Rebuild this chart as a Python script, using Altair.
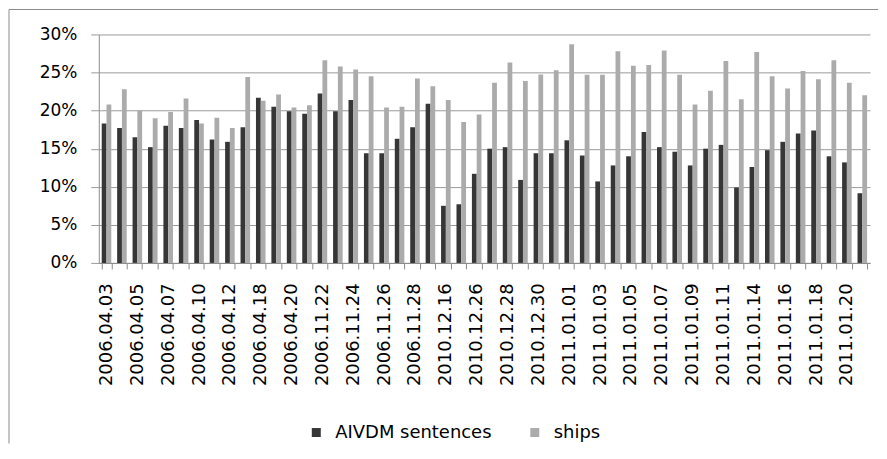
import altair as alt
import pandas as pd

dates = [
    "2006.04.03", "2006.04.04", "2006.04.05", "2006.04.06", "2006.04.07",
    "2006.04.08", "2006.04.10", "2006.04.11", "2006.04.12", "2006.04.17",
    "2006.04.18", "2006.04.19", "2006.04.20", "2006.04.21", "2006.11.22",
    "2006.11.23", "2006.11.24", "2006.11.25", "2006.11.26", "2006.11.27",
    "2006.11.28", "2006.11.29", "2010.12.16", "2010.12.25", "2010.12.26",
    "2010.12.27", "2010.12.28", "2010.12.29", "2010.12.30", "2010.12.31",
    "2011.01.01", "2011.01.02", "2011.01.03", "2011.01.04", "2011.01.05",
    "2011.01.06", "2011.01.07", "2011.01.08", "2011.01.09", "2011.01.10",
    "2011.01.11", "2011.01.13", "2011.01.14", "2011.01.15", "2011.01.16",
    "2011.01.17", "2011.01.18", "2011.01.19", "2011.01.20", "2011.01.21",
]

aivdm = [
    18.3, 17.7, 16.5, 15.2, 18.0, 17.7, 18.75, 16.2, 15.9, 17.8,
    21.7, 20.5, 19.9, 19.6, 22.25, 19.9, 21.4, 14.4, 14.4, 16.3,
    17.8, 20.9, 7.5, 7.7, 11.7, 15.0, 15.2, 10.9, 14.4, 14.4,
    16.1, 14.1, 10.7, 12.8, 14.0, 17.2, 15.2, 14.6, 12.8, 15.0,
    15.5, 9.9, 12.6, 14.8, 15.9, 17.0, 17.4, 14.0, 13.2, 9.15,
]

ships = [
    20.8, 22.8, 20.0, 19.0, 19.8, 21.6, 18.3, 19.05, 17.7, 24.4,
    21.3, 22.1, 20.4, 20.7, 26.6, 25.8, 25.4, 24.5, 20.4, 20.5,
    24.2, 23.2, 21.4, 18.5, 19.5, 23.65, 26.3, 23.9, 24.75, 25.3,
    28.7, 24.7, 24.7, 27.8, 25.9, 26.0, 27.9, 24.7, 20.8, 22.6,
    26.5, 21.5, 27.7, 24.5, 22.9, 25.2, 24.1, 26.6, 23.65, 22.0,
]

series_names = ["AIVDM sentences", "ships"]
series_colors = ["#363636", "#ababab"]
y_ticks = [0, 5, 10, 15, 20, 25, 30]

rows = []
for d, a, s in zip(dates, aivdm, ships):
    rows.append({"date": d, "series": series_names[0], "value": a})
    rows.append({"date": d, "series": series_names[1], "value": s})
df = pd.DataFrame(rows)

shown = dates[::2]
label_expr = ("indexof([" + ",".join("'%s'" % d for d in shown) +
              "], datum.value) >= 0 ? datum.label : ''")

bars = alt.Chart(df).mark_bar().encode(
    x=alt.X("date:N", sort=dates,
            scale=alt.Scale(paddingInner=0.38, paddingOuter=0.19),
            axis=alt.Axis(title=None, labelAngle=-90, labelExpr=label_expr,
                          labelOverlap=False, tickBand="extent", tickSize=6,
                          labelPadding=14, labelFontSize=18, labelColor="#000000",
                          tickColor="#8c8c8c", domainColor="#8c8c8c", grid=False)),
    xOffset=alt.XOffset("series:N", sort=series_names,
                        scale=alt.Scale(paddingInner=0, paddingOuter=0)),
    y=alt.Y("value:Q", scale=alt.Scale(domain=[0, 30]),
            axis=alt.Axis(title=None, values=y_ticks, labelExpr="datum.value + '%'",
                          tickSize=8, labelPadding=14, labelFontSize=17,
                          labelColor="#000000", tickColor="#9a9a9a",
                          domainColor="#8c8c8c", gridColor="#9a9a9a", grid=True)),
    color=alt.Color("series:N", sort=series_names,
                    scale=alt.Scale(domain=series_names, range=series_colors),
                    legend=alt.Legend(title=None, orient="none", legendX=209, legendY=390,
                                      direction="horizontal", symbolType="square",
                                      symbolSize=81, symbolStrokeWidth=0,
                                      labelFontSize=18, labelColor="#000000",
                                      labelLimit=300, labelOffset=10,
                                      columnPadding=34, padding=0)),
)

frame_df = pd.DataFrame({"k": [0]})
frame_left = alt.Chart(frame_df).mark_rule(color="#8c8c8c", strokeWidth=1).encode(
    x=alt.value(-90), y=alt.value(-25), y2=alt.value(410))
frame_top = alt.Chart(frame_df).mark_rule(color="#8c8c8c", strokeWidth=1).encode(
    x=alt.value(-90), x2=alt.value(781), y=alt.value(-25))

chart = alt.layer(bars, frame_left, frame_top).properties(
    width=773, height=229,
    padding={"left": 0, "top": 0, "right": 0, "bottom": 0},
).configure(font="DejaVu Sans").configure_view(strokeWidth=0)

chart.save("out.html", embed_options={"renderer": "svg", "actions": False})
